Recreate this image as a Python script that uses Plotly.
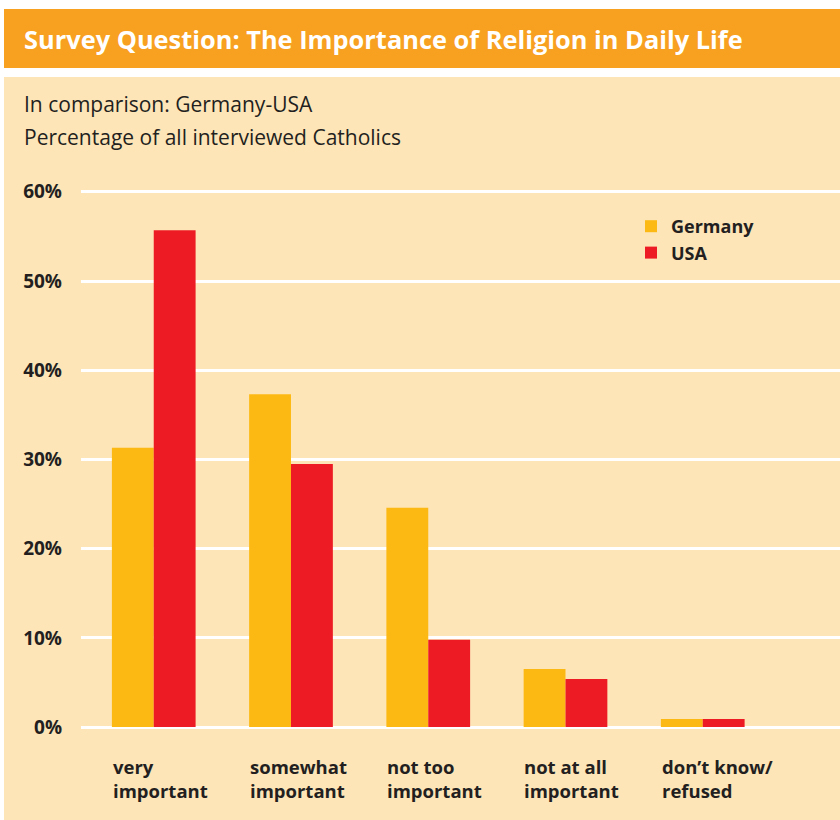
import plotly.graph_objects as go

categories = ["very important", "somewhat important", "not too important", "not at all important", "don't know/refused"]
cat_labels = ["very<br>important", "somewhat<br>important", "not too<br>important", "not at all<br>important", "don’t know/<br>refused"]
germany = [31.3, 37.3, 24.6, 6.5, 0.9]
usa = [55.7, 29.5, 9.8, 5.4, 0.9]
y_ticks = [0, 10, 20, 30, 40, 50, 60]
y_tick_labels = ["0%", "10%", "20%", "30%", "40%", "50%", "60%"]

FONT = "Open Sans"
DARK = "#231f20"
BEIGE = "#fde5b8"
ORANGE = "#f8a01f"
GER_C = "#fdb913"
USA_C = "#ed1c24"

W, H = 840, 820
L, R, T, B = 81, 0, 174, 84
pw, ph = W - L - R, H - T - B

def px_x(x):
    return (x - L) / pw

def px_y(y):
    return (H - B - y) / ph

x_idx = list(range(len(categories)))

fig = go.Figure()
fig.add_trace(go.Bar(x=x_idx, y=germany, name="Germany", marker=dict(color=GER_C, line_width=0)))
fig.add_trace(go.Bar(x=x_idx, y=usa, name="USA", marker=dict(color=USA_C, line_width=0)))

shapes = [
    dict(type="rect", xref="paper", yref="paper", x0=px_x(0), x1=px_x(W), y0=px_y(77), y1=px_y(0),
         fillcolor="white", line_width=0, layer="below"),
    dict(type="rect", xref="paper", yref="paper", x0=px_x(0), x1=px_x(4), y0=px_y(H), y1=px_y(0),
         fillcolor="white", line_width=0, layer="below"),
    dict(type="rect", xref="paper", yref="paper", x0=px_x(4), x1=px_x(W), y0=px_y(68), y1=px_y(9),
         fillcolor=ORANGE, line_width=0, layer="below"),
]

annotations = [
    dict(text="<b>Survey Question: The Importance of Religion in Daily Life</b>", xref="paper", yref="paper",
         x=px_x(22), y=px_y(39), xanchor="left", yanchor="middle", showarrow=False,
         font=dict(family=FONT, size=25.4, color="white")),
    dict(text="In comparison: Germany-USA", xref="paper", yref="paper",
         x=px_x(22), y=px_y(104), xanchor="left", yanchor="middle", showarrow=False,
         font=dict(family=FONT, size=21, color=DARK)),
    dict(text="Percentage of all interviewed Catholics", xref="paper", yref="paper",
         x=px_x(22), y=px_y(137), xanchor="left", yanchor="middle", showarrow=False,
         font=dict(family=FONT, size=21, color=DARK)),
]
for i, lab in enumerate(cat_labels):
    annotations.append(dict(text=f"<b>{lab}</b>", xref="x", yref="paper", x=i - 0.315, y=px_y(778),
                            xanchor="left", yanchor="middle", align="left", showarrow=False,
                            font=dict(family=FONT, size=18.5, color=DARK)))

fig.update_layout(
    width=W, height=H,
    margin=dict(l=L, r=R, t=T, b=B, pad=0),
    paper_bgcolor=BEIGE, plot_bgcolor=BEIGE,
    barmode="group", bargap=0.39, bargroupgap=0,
    shapes=shapes, annotations=annotations,
    showlegend=True,
    legend=dict(x=px_x(631), y=px_y(208), xanchor="left", yanchor="top", bgcolor="rgba(0,0,0,0)",
                font=dict(family=FONT, size=18, color=DARK, weight="bold"), tracegroupgap=0),
    xaxis=dict(range=[-0.53, 5.0], showgrid=False, zeroline=False, showticklabels=False, ticks="",
               showline=False, fixedrange=True),
    yaxis=dict(range=[-1.0, 62], tickvals=y_ticks, ticktext=y_tick_labels, showgrid=True,
               gridcolor="white", gridwidth=3, zeroline=False, showline=False, ticks="",
               ticklabelstandoff=18, tickfont=dict(family=FONT, size=19, color=DARK, weight="bold")),
)

fig.write_html("out.html")
